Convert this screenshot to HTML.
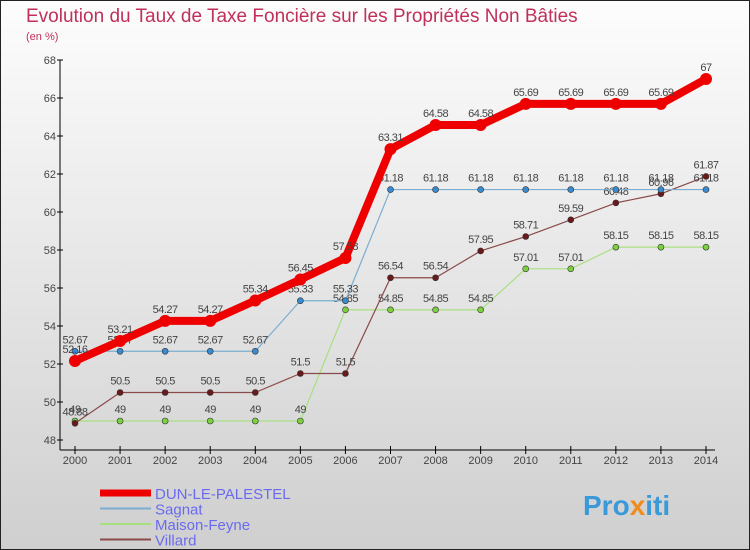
<!DOCTYPE html>
<html><head><meta charset="utf-8"><style>
body{margin:0;width:750px;height:550px;overflow:hidden}
svg{display:block;font-family:"Liberation Sans","DejaVu Sans",sans-serif}
</style></head><body>
<svg id="c" width="750" height="550">
<defs><linearGradient id="bg" x1="0" y1="0" x2="0" y2="1"><stop offset="0" stop-color="#fdfdfd"/><stop offset="1" stop-color="#cfcfcf"/></linearGradient></defs>
<rect x="0.5" y="0.5" width="749" height="549" fill="url(#bg)" stroke="#222"/>
<text x="26" y="22" font-size="19" fill="#c0305a">Evolution du Taux de Taxe Foncière sur les Propriétés Non Bâties</text>
<text x="26" y="40" font-size="11" fill="#c0305a">(en %)</text>
<g id="axes"></g><g id="series"></g><g id="legend"></g>
<text x="583" y="515" font-size="28" font-weight="bold" fill="#3a9ad9">Pro<tspan fill="#f08c1e">x</tspan>iti</text>
</svg>
<script>
const years=[2000,2001,2002,2003,2004,2005,2006,2007,2008,2009,2010,2011,2012,2013,2014];
const yTicks=[48,50,52,54,56,58,60,62,64,66,68];
const dun=[52.16,53.21,54.27,54.27,55.34,56.45,57.58,63.31,64.58,64.58,65.69,65.69,65.69,65.69,67];
const sagnat=[52.67,52.67,52.67,52.67,52.67,55.33,55.33,61.18,61.18,61.18,61.18,61.18,61.18,61.18,61.18];
const maison=[49,49,49,49,49,49,54.85,54.85,54.85,54.85,57.01,57.01,58.15,58.15,58.15];
const villard=[48.88,50.5,50.5,50.5,50.5,51.5,51.5,56.54,56.54,57.95,58.71,59.59,60.48,60.96,61.87];
const names=["DUN-LE-PALESTEL","Sagnat","Maison-Feyne","Villard"];
const NS="http://www.w3.org/2000/svg";
const x=i=>75+i*(706-75)/(years.length-1);
const y=v=>440-(v-48)*(380/20);
function mk(tag,attrs,parent,text){const e=document.createElementNS(NS,tag);for(const k in attrs)e.setAttribute(k,attrs[k]);if(text!==undefined)e.textContent=text;parent.appendChild(e);return e;}
const ax=document.getElementById('axes');
let l=mk('line',{x1:60,y1:60,x2:60,y2:450,stroke:'#000'},ax);


l=mk('line',{x1:60,y1:450,x2:715,y2:450,stroke:'#000'},ax);


yTicks.forEach(v=>{mk('line',{x1:57,y1:y(v),x2:63,y2:y(v),stroke:'#000'},ax);
 const t=mk('text',{x:56,y:y(v)+4,'font-size':11,fill:'#444','text-anchor':'end'},ax,v);
 
 });
years.forEach((yr,i)=>{mk('line',{x1:x(i),y1:446,x2:x(i),y2:454,stroke:'#000'},ax);
 const t=mk('text',{x:x(i),y:464,'font-size':11,fill:'#444','text-anchor':'middle'},ax,yr);
 
 });
const sg=document.getElementById('series');
function series(data,color,w,dotFill,r,name){
 const g=mk('g',{},sg);
 
 
 mk('polyline',{points:data.map((v,i)=>x(i)+','+y(v)).join(' '),fill:'none',stroke:color,'stroke-width':w,'stroke-linejoin':'round'},g);
 data.forEach((v,i)=>{const c=mk('circle',{cx:x(i),cy:y(v),r:r,fill:dotFill,stroke:'#333','stroke-width':r>5?0:0.6},g);
  
  
  const t=mk('text',{x:x(i),y:y(v)-8,'font-size':11,fill:'#444','text-anchor':'middle','letter-spacing':'-0.5'},g,String(v));
  
  });
}
series(maison,'#a8e080',1.2,'#7cd040',3,'series-maison-feyne');
series(villard,'#8a4a4a',1.2,'#6a1a1a',3,'series-villard');
series(sagnat,'#7aaed0',1.2,'#3a8ad0',3,'series-sagnat');
series(dun,'#ee0000',8,'#ee0000',6,'series-dun-le-palestel');
const lg=document.getElementById('legend');
const lc=[['#ee0000',7],['#7aaed0',2],['#a8e080',2],['#8a4a4a',2]];
names.forEach((n,i)=>{const yy=493+i*15.5;
 const g=mk('g',{},lg);
 
 
 mk('line',{x1:100,y1:yy,x2:151,y2:yy,stroke:lc[i][0],'stroke-width':lc[i][1]},g);
 mk('text',{x:155,y:yy+6,'font-size':15,fill:'#6a6af0'},g,n);});
</script>
</body></html>
